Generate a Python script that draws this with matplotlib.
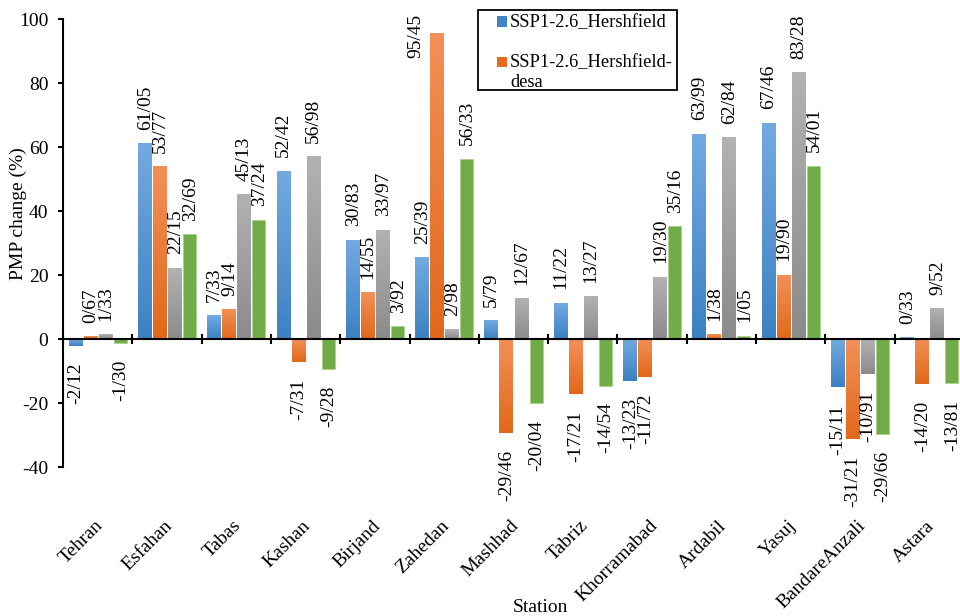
import matplotlib
matplotlib.use('Agg')
import matplotlib.pyplot as plt
from matplotlib.patches import Rectangle
from matplotlib.colors import to_rgb
from matplotlib.transforms import blended_transform_factory
import numpy as np

plt.rcParams['font.family'] = ['Liberation Serif', 'DejaVu Serif']
plt.rcParams['axes.unicode_minus'] = False

stations = ['Tehran', 'Esfahan', 'Tabas', 'Kashan', 'Birjand', 'Zahedan', 'Mashhad',
            'Tabriz', 'Khorramabad', 'Ardabil', 'Yasuj', 'BandareAnzali', 'Astara']
hershfield = [-2.12, 61.05, 7.33, 52.42, 30.83, 25.39, 5.79, 11.22, -13.23, 63.99, 67.46, -15.11, 0.33]
hershfield_desa = [0.67, 53.77, 9.14, -7.31, 14.55, 95.45, -29.46, -17.21, -11.72, 1.38, 19.90, -31.21, -14.20]
series_3 = [1.33, 22.15, 45.13, 56.98, 33.97, 2.98, 12.67, 13.27, 19.30, 62.84, 83.28, -10.91, 9.52]
series_4 = [-1.30, 32.69, 37.24, -9.28, 3.92, 56.33, -20.04, -14.54, 35.16, 1.05, 54.01, -29.66, -13.81]
legend_labels = ['SSP1-2.6_Hershfield', 'SSP1-2.6_Hershfield-', 'desa']

FS = 14
W, H = 960, 616

# (top colour, bottom colour) of each series' gradient fill; None = flat fill
fills = [('#72aae0', '#3d81c3'), ('#f29058', '#e1681a'), ('#b2b2b2', '#8b8b8b'), None]
flat_green = '#70ad47'

fig = plt.figure(figsize=(9.6, 6.16), dpi=100)
ax = fig.add_axes([63 / W, 1 - 467 / H, 901 / W, 448 / H])


def px(x, y):
    # pixel position (from top-left) -> figure fraction
    return x / W, 1 - y / H


def grad_bar(x, v, w, top, bottom):
    t = np.linspace(0, 1, 64)[:, None, None]
    img = (1 - t) * np.array(to_rgb(top)) + t * np.array(to_rgb(bottom))
    ax.imshow(img, extent=(x - w / 2, x + w / 2, min(0, v), max(0, v)),
              origin='upper', aspect='auto', interpolation='bilinear', zorder=2)


def fmt(v):
    return f'{v:.2f}'.replace('.', '/')


xs = np.arange(len(stations))
step, bw = 0.2165, 0.1876
all_series = [hershfield, hershfield_desa, series_3, series_4]

for k, vals in enumerate(all_series):
    xk = xs + (k - 1.5) * step
    for x, v in zip(xk, vals):
        if fills[k] is None:
            ax.bar(x, v, width=bw, color=flat_green, edgecolor='#a9d18e', linewidth=0.6, zorder=2)
        else:
            grad_bar(x, v, bw, *fills[k])
        if v > 88:
            # no room above the bar: put the label beside it
            ax.annotate(fmt(v), (x, v), xytext=(-15, 14), textcoords='offset points',
                        rotation=90, ha='center', va='top', fontsize=FS)
        elif v >= 0:
            ax.annotate(fmt(v), (x, v), xytext=(0.5, 10), textcoords='offset points',
                        rotation=90, ha='center', va='bottom', fontsize=FS)
        else:
            ax.annotate(fmt(v), (x, v), xytext=(0.5, -12), textcoords='offset points',
                        rotation=90, ha='center', va='top', fontsize=FS)

ax.set_xlim(-0.5, len(stations) - 0.5)
ax.set_ylim(-40, 100)
ax.set_aspect('auto')

ax.spines['top'].set_visible(False)
ax.spines['right'].set_visible(False)
ax.spines['bottom'].set_position(('data', 0))
ax.spines['bottom'].set_linewidth(1.5)
ax.spines['bottom'].set_zorder(3)
ax.spines['left'].set_linewidth(1.5)

ax.set_yticks(range(-40, 101, 20))
ax.tick_params(axis='y', direction='out', length=3.6, width=1.5, labelsize=FS, pad=7)
ax.set_xticks(np.arange(-0.5, len(stations), 1))
ax.set_xticklabels([])
ax.tick_params(axis='x', direction='inout', length=7, width=1.5)

trans = blended_transform_factory(ax.transData, ax.transAxes)
for x, name in zip(xs, stations):
    ax.text(x - 0.05, -0.112, name, transform=trans, rotation=45, rotation_mode='anchor',
            ha='right', va='top', fontsize=FS)

fig.text(*px(18, 214), 'PMP change (%)', rotation=90, ha='center', va='center', fontsize=FS)
fig.text(*px(540, 608), 'Station', ha='center', va='center', fontsize=FS)

# legend box
lx0, ly0 = px(478, 90)
lx1, ly1 = px(677, 10)
fig.patches.append(Rectangle((lx0, ly0), lx1 - lx0, ly1 - ly0, transform=fig.transFigure,
                             facecolor='white', edgecolor='black', linewidth=1.3, zorder=5))
for sq_y, col in [(21.5, '#4285c6'), (62, '#e46c1a')]:
    sx, sy = px(497, sq_y + 5)
    fig.patches.append(Rectangle((sx, sy), 10 / W, 10 / H, transform=fig.transFigure,
                                 facecolor=col, edgecolor='none', zorder=6))
for ty, lab in zip([27, 67, 87], legend_labels):
    fig.text(*px(510, ty), lab, ha='left', va='baseline', fontsize=13.3, zorder=7)

fig.savefig('out.png', dpi=100)
